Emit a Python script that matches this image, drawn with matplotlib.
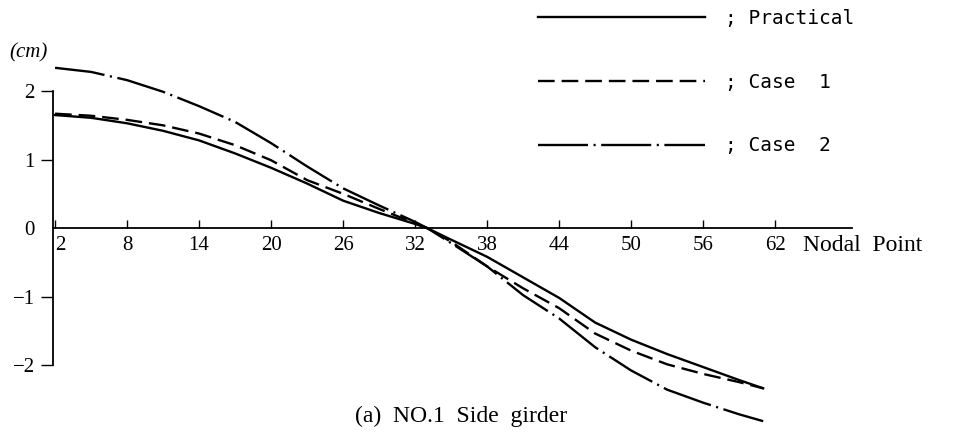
import numpy as np
import matplotlib
matplotlib.use("Agg")
import matplotlib.pyplot as plt

# deflection along the girder
nodes = [2, 5, 8, 11, 14, 17, 20, 23, 26, 29, 32, 33, 35, 38, 41, 44, 47, 50, 53, 56, 59, 61]
practical = [1.65, 1.61, 1.53, 1.42, 1.28, 1.09, 0.88, 0.65, 0.40, 0.22, 0.06, 0.0,
             -0.17, -0.42, -0.72, -1.02, -1.38, -1.63, -1.84, -2.03, -2.22, -2.34]
case1 = [1.67, 1.64, 1.58, 1.50, 1.38, 1.21, 0.99, 0.70, 0.50, 0.28, 0.07, 0.0,
         -0.20, -0.56, -0.88, -1.17, -1.54, -1.79, -1.99, -2.13, -2.25, -2.34]
case2 = [2.34, 2.28, 2.16, 1.99, 1.78, 1.55, 1.24, 0.90, 0.58, 0.33, 0.09, 0.0,
         -0.22, -0.56, -0.98, -1.32, -1.74, -2.08, -2.36, -2.55, -2.72, -2.82]

xticks = [2, 8, 14, 20, 26, 32, 38, 44, 50, 56, 62]
yticks = [-2, -1, 0, 1, 2]

plt.rcParams['lines.scale_dashes'] = False
serif = 'Liberation Serif'

W, H = 957, 438
fig = plt.figure(figsize=(W / 100, H / 100), dpi=100)
# axes box in pixels: x spine 53..852, y from -3 (433.5) to 2.6 (50)
ax = fig.add_axes([53 / W, (H - 433.5) / H, (852 - 53) / W, (433.5 - 50) / H])
ax.set_xlim(1.83, 68.4)
ax.set_ylim(-3.0, 2.6)

lw = 1.7
ax.plot(nodes, practical, color='black', lw=lw, label='; Practical')
ax.plot(nodes, case1, color='black', lw=lw, dashes=(12, 5), label='; Case  1')
ax.plot(nodes, case2, color='black', lw=lw, dashes=(36, 4, 1.5, 4), label='; Case  2')

for s in ['top', 'right']:
    ax.spines[s].set_visible(False)
ax.spines['bottom'].set_position(('data', 0))
ax.spines['left'].set_bounds(-2, 2)
ax.spines['bottom'].set_linewidth(1.3)
ax.spines['left'].set_linewidth(1.3)

ax.set_xticks(xticks)
ax.set_xticklabels([str(t) for t in xticks], family=serif, fontsize=15)
ax.tick_params(axis='x', direction='in', length=6, width=1.0, pad=6)
ax.get_xticklabels()[0].set_horizontalalignment('left')

ax.set_yticks(yticks)
ax.set_yticklabels([str(t).replace('-', '\u2212') for t in yticks], family=serif, fontsize=15)
ax.tick_params(axis='y', direction='out', length=9, width=1.0, pad=4)
ax.yaxis.get_major_ticks()[2].tick1line.set_visible(False)

fig.text(803 / W, 1 - 235 / H, 'Nodal  Point', family=serif, fontsize=17,
         ha='left', va='top')
fig.text(9 / W, 1 - 57 / H, '(cm)', family=serif, style='italic', fontsize=15)
fig.text(461 / W, 1 - 416 / H, '(a)  NO.1  Side  girder', family=serif, fontsize=17,
         ha='center', va='center')

leg = ax.legend(loc='upper left', bbox_to_anchor=(538 / W, 1 - 9 / H),
                bbox_transform=fig.transFigure, frameon=False, handlelength=8.6,
                handletextpad=1.0, labelspacing=2.3, borderpad=0, borderaxespad=0,
                prop={'family': 'DejaVu Sans Mono', 'size': 14})

fig.savefig('out.png', dpi=100)
